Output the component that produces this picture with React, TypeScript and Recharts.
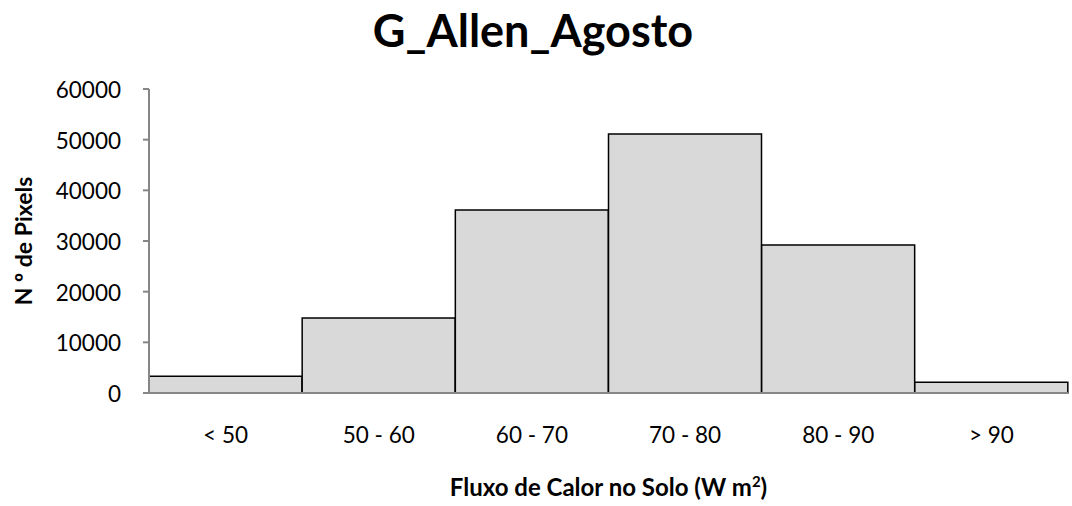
import { BarChart, Bar, XAxis, YAxis } from "recharts";

// ── Data ─────────────────────────────────────────────────

const categories = ["< 50", "50 - 60", "60 - 70", "70 - 80", "80 - 90", "> 90"];
const pixelCounts = [3300, 14800, 36100, 51100, 29200, 2100];
const yTicks = [0, 10000, 20000, 30000, 40000, 50000, 60000];

const chartData = categories.map((name, i) => ({ name, count: pixelCounts[i] }));

// ── Styles ───────────────────────────────────────────────

const FONT = "Lato, 'Open Sans', sans-serif";
const AXIS_GRAY = "#868686";

const XTick = ({ x, y, payload }: { x?: number; y?: number; payload?: { value: string } }) => (
  <text x={x} y={(y ?? 0) + 42} textAnchor="middle" fontFamily={FONT} fontSize={22.5} fill="#000">
    {payload?.value}
  </text>
);

const YTick = ({ x, y, payload }: { x?: number; y?: number; payload?: { value: number } }) => (
  <text x={(x ?? 0) - 20} y={(y ?? 0) + 9} textAnchor="end" fontFamily={FONT} fontSize={22.5} fill="#000">
    {payload?.value}
  </text>
);

export default function App() {
  return (
    <div style={{ position: "absolute", left: 0, top: 0, width: 1072, height: 506, background: "#fff" }}>
      <BarChart
        width={1072}
        height={506}
        data={chartData}
        barCategoryGap={0}
        margin={{ top: 89, right: 4, bottom: 0, left: 0 }}
        style={{ position: "absolute", left: 0, top: 0 }}
      >
        <XAxis
          dataKey="name"
          height={113}
          tickLine={false}
          axisLine={{ stroke: AXIS_GRAY, strokeWidth: 2 }}
          tick={<XTick />}
          interval={0}
          label={({ viewBox }: { viewBox?: { x: number; y: number; width: number } }) => (
            <text
              x={(viewBox?.x ?? 0) + (viewBox?.width ?? 0) / 2}
              y={(viewBox?.y ?? 0) + 103}
              textAnchor="middle"
              fontFamily={FONT}
              fontWeight="bold"
              fontSize={24}
              fill="#000"
            >
              Fluxo de Calor no Solo (W m
              <tspan fontSize={15} dy={-9}>2</tspan>
              <tspan dy={9}>)</tspan>
            </text>
          )}
        />
        <YAxis
          width={149}
          domain={[0, 60000]}
          ticks={yTicks}
          interval={0}
          tickSize={6}
          tickLine={{ stroke: AXIS_GRAY, strokeWidth: 2 }}
          axisLine={{ stroke: AXIS_GRAY, strokeWidth: 2 }}
          tick={<YTick />}
          label={({ viewBox }: { viewBox?: { x: number; y: number; height: number } }) => {
            const cy = (viewBox?.y ?? 0) + (viewBox?.height ?? 0) / 2;
            return (
              <text
                x={32}
                y={cy}
                transform={`rotate(-90, 32, ${cy})`}
                textAnchor="middle"
                fontFamily={FONT}
                fontWeight="bold"
                fontSize={23}
                fill="#000"
              >
                N º de Pixels
              </text>
            );
          }}
        />
        <Bar dataKey="count" fill="#d9d9d9" stroke="#000" strokeWidth={1.5} isAnimationActive={false} />
      </BarChart>
      <svg width={1072} height={70} style={{ position: "absolute", left: 0, top: 0, pointerEvents: "none" }}>
        <text x={533} y={47} textAnchor="middle" fontFamily={FONT} fontWeight="bold" fontSize={45} fill="#000">
          G_Allen_Agosto
        </text>
      </svg>
    </div>
  );
}
